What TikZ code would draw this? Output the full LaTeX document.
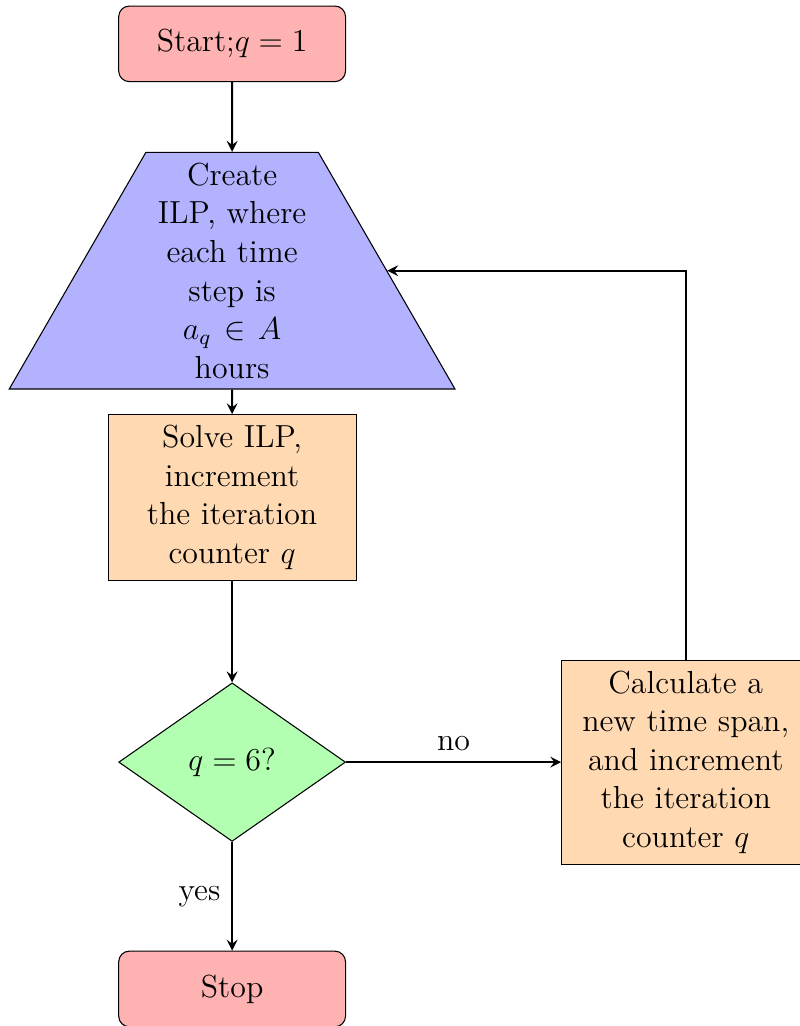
\documentclass[12pt,tikz,border=0pt]{standalone}
\usepackage{amsmath}
\usepackage{amssymb}
\usetikzlibrary{shapes.geometric,arrows,positioning}

\begin{document}
\begin{tikzpicture}[node distance=3cm, on grid]
  \tikzset{startstop/.style={rectangle, rounded corners, minimum width=3cm, minimum height=1cm, align=center, draw=black, fill=red!30},
    io/.style={trapezium, trapezium left angle=60, trapezium right angle=60, text width=2cm, align=center, draw=black, fill=blue!30},
    process/.style={rectangle, text width=3cm, align=center, draw=black, fill=orange!30},
    decision/.style={diamond, minimum width=3cm, minimum height=1cm, align=center, draw=black, fill=green!30},
    arrow/.style={thick, ->, >=stealth}}
  \useasboundingbox (-3.07,0.58) rectangle (7.51,-12.99);
  \node (start) [startstop] {Start;$q=1$};
  \node (ilp) [io, below=of start] {Create\\ ILP, where\\ each time\\ step is\\ $a_q \in A$\\ hours};
  \node (solve) [process, below=of ilp] {Solve ILP,\\ increment\\ the iteration\\ counter $q$};
  \node (check) [decision, below=3.5cm of solve] {$q=6$?};
  \node (span) [process, right=6cm of check] {Calculate a\\ new time span,\\ and increment\\ the iteration\\ counter $q$};
  \node (stop) [startstop, below=of check] {Stop};
  \draw [arrow] (start) -- (ilp);
  \draw [arrow] (ilp) -- (solve);
  \draw [arrow] (solve) -- (check);
  \draw [arrow] (check) -- node[anchor=south] {no} (span);
  \draw [arrow] (check) -- node[anchor=east] {yes} (stop);
  \draw [arrow] (span) |- (ilp);
\end{tikzpicture}
\end{document}
